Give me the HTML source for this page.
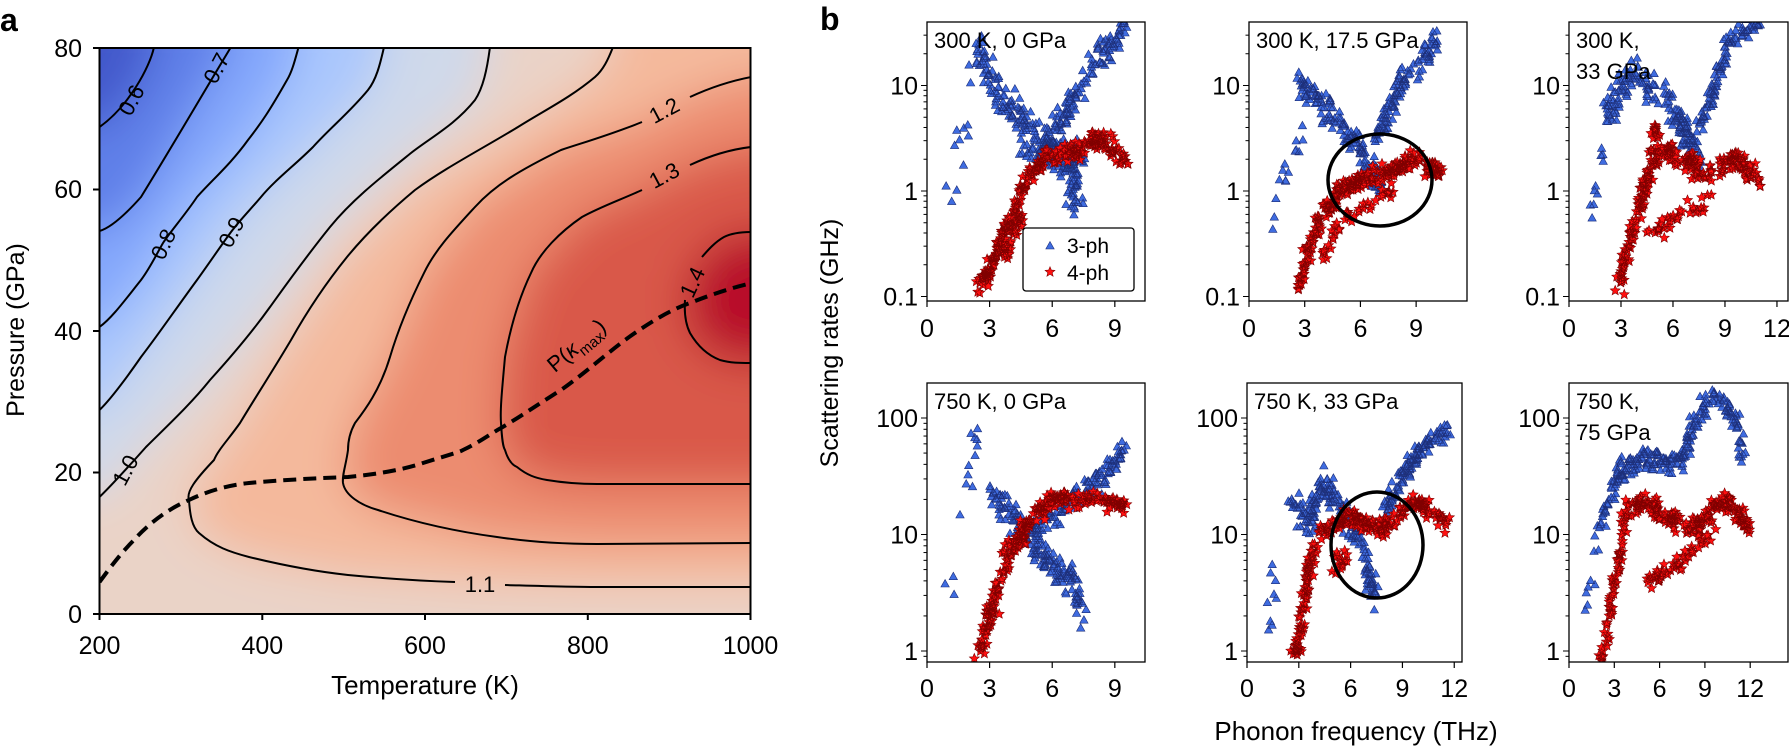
<!DOCTYPE html>
<html><head><meta charset="utf-8">
<style>
html,body{margin:0;padding:0;background:#fff;}
svg{display:block;font-family:"Liberation Sans",sans-serif;}
</style></head>
<body>
<svg id="s" width="1789" height="747" viewBox="0 0 1789 747" xmlns="http://www.w3.org/2000/svg">
<defs>
<clipPath id="ca"><rect x="99.5" y="48" width="651" height="566"/></clipPath>
<filter id="bl" x="-20%" y="-20%" width="140%" height="140%"><feGaussianBlur stdDeviation="22"/></filter>
</defs>
<g clip-path="url(#ca)">
<g filter="url(#bl)">
<rect x="40" y="0" width="780" height="680" fill="#4358cb"/>
<path fill="#5f7fe8" d="M154,0 L154,47 C150,67 128,107 99.5,127 L40,127 L40,680 L820,680 L820,0Z"/>
<path fill="#84a7fc" d="M231,0 L231,47 C205,90 176,140 141,197 C125,215 110,228 99.5,231 L40,231 L40,680 L820,680 L820,0Z"/>
<path fill="#aac7fd" d="M298,0 L298.6,47 L287,80 L248,140 L197,197 L163,243 L141,280 L99.5,327 L40,327 L40,680 L820,680 L820,0Z"/>
<path fill="#cfd9ea" d="M384,0 L384,47 L368,90 L313,147 L261,197 L231,232 L197,280 L141,357 L99.5,410 L40,410 L40,680 L820,680 L820,0Z"/>
<path fill="#ead3c7" d="M490,0 L490,47 L475,100 L411,153 L330,227 L270,307 L210,380 L146,447 L127,468 L99.5,497 L40,497 L40,680 L820,680 L820,0Z"/>
<path fill="#f4b99c" d="M613,0 L613,47 L595,77 L518,127 L415,190 L347,257 L291,340 L240,423 L214,460 L189,500 L199,533 L249,557 L348,575 L455,582 L505,585 L597,587 L820,587 L820,0Z"/>
<path fill="#ec8c6f" d="M820,77 L751,77 L690,97 L642,122 L561,150 L475,207 L424,273 L390,357 L355,423 L348,450 L343,483 L378,510 L497,537 L597,544 L820,543Z"/>
<path fill="#d9594a" d="M820,147 L751,147 L690,165 L642,190 L582,217 L531,273 L505,357 L501,423 L505,450 L517,467 L547,480 L597,484 L820,484Z"/>
<path fill="#b80f2a" d="M820,232 L751,232 L724,237 L702,257 L687,280 L685,307 L690,333 L720,360 L751,363 L820,363Z"/>
</g>
<g fill="none" stroke="#000" stroke-width="2">
<path d="M154,47 C150,67 128,107 99.5,127"/>
<path d="M231,47 C205,90 176,140 141,197 C125,215 110,228 99.5,231"/>
<path d="M298.6,47 C295,60 292,72 287,80 C270,110 262,122 248,140 C230,165 212,180 197,197 C185,215 170,232 163,243 C155,257 150,268 141,280 C125,300 112,318 99.5,327"/>
<path d="M384,47 C380,65 376,80 368,90 C350,112 330,128 313,147 C295,165 275,180 261,197 C250,210 240,220 231,232 C220,247 210,262 197,280 C175,310 158,335 141,357 C125,380 110,400 99.5,410"/>
<path d="M490,47 C487,70 483,88 475,100 C455,125 430,138 411,153 C380,178 352,200 330,227 C305,258 288,282 270,307 C250,335 230,358 210,380 C190,405 165,428 146,447 C130,465 112,485 99.5,497"/>
<path d="M613,47 C608,60 603,70 595,77 C570,98 545,110 518,127 C480,150 445,168 415,190 C385,215 365,235 347,257 C322,288 305,315 291,340 C272,372 255,398 240,423 C228,440 218,450 214,460 C195,480 186,492 189,500 C190,515 192,527 199,533 C215,547 230,552 249,557 C290,567 320,572 348,575 C390,579 425,581 455,582 M505,585 C540,586 570,587 597,587 L751,587"/>
<path d="M751,77 C725,82 705,90 690,97 M642,122 C610,135 585,142 561,150 C520,170 495,185 475,207 C452,232 435,250 424,273 C408,305 398,330 390,357 C380,390 365,410 355,423 C350,432 348,442 348,450 C346,465 342,475 343,483 C345,495 360,505 378,510 C420,524 460,532 497,537 C530,542 565,544 597,544 L751,543"/>
<path d="M751,147 C725,150 705,158 690,165 M642,190 C620,200 600,207 582,217 C560,232 540,252 531,273 C518,300 510,330 505,357 C502,390 500,410 501,423 C502,440 503,447 505,450 C508,460 512,465 517,467 C527,475 535,478 547,480 C565,483 580,484 597,484 L751,484"/>
<path d="M751,232 C738,232 730,234 724,237 C715,242 708,250 702,257 M685,300 C684,315 686,325 690,333 C697,345 707,355 720,360 C730,363 740,363 751,363"/>
</g>
<path d="M99.5,582 C112,565 122,552 134,540 C150,522 170,508 189,500 C210,490 230,485 249,483 C280,480 320,478 348,477 C380,474 405,469 423,463 C445,456 460,452 463,450 C480,442 490,434 501,428 C520,417 540,403 561,390 C585,373 605,355 625,340 C650,322 670,310 690,303 C715,293 735,287 751.7,283" fill="none" stroke="#000" stroke-width="4" stroke-dasharray="13,7"/>
<g font-size="22" fill="#000" text-anchor="middle">
<text transform="translate(131,100) rotate(-62)" dy="8">0.6</text>
<text transform="translate(216,68) rotate(-62)" dy="8">0.7</text>
<text transform="translate(163,244) rotate(-65)" dy="8">0.8</text>
<text transform="translate(231,232) rotate(-62)" dy="8">0.9</text>
<text transform="translate(125,470) rotate(-62)" dy="8">1.0</text>
<text transform="translate(480,584)" dy="8">1.1</text>
<text transform="translate(664,110) rotate(-28)" dy="8">1.2</text>
<text transform="translate(664,175) rotate(-28)" dy="8">1.3</text>
<text transform="translate(692,282) rotate(-65)" dy="8">1.4</text>
<text transform="translate(576,345) rotate(-40)" dy="8">P(<tspan font-style="italic">κ</tspan><tspan font-size="15" dy="6">max</tspan><tspan dy="-6">)</tspan></text>
</g>
</g>
<rect x="99.5" y="48" width="651" height="566" fill="none" stroke="#000" stroke-width="2"/>
<g stroke="#000" stroke-width="2">
<line x1="93" y1="48" x2="99.5" y2="48"/><line x1="93" y1="189.5" x2="99.5" y2="189.5"/><line x1="93" y1="331" x2="99.5" y2="331"/><line x1="93" y1="472.5" x2="99.5" y2="472.5"/><line x1="93" y1="614" x2="99.5" y2="614"/>
<line x1="99.5" y1="614" x2="99.5" y2="620"/><line x1="262.3" y1="614" x2="262.3" y2="620"/><line x1="425" y1="614" x2="425" y2="620"/><line x1="587.8" y1="614" x2="587.8" y2="620"/><line x1="750.5" y1="614" x2="750.5" y2="620"/>
</g>
<g font-size="25" fill="#000">
<g text-anchor="end"><text x="82" y="57">80</text><text x="82" y="198">60</text><text x="82" y="340">40</text><text x="82" y="481">20</text><text x="82" y="623">0</text></g>
<g text-anchor="middle"><text x="99.5" y="654">200</text><text x="262.3" y="654">400</text><text x="425" y="654">600</text><text x="587.8" y="654">800</text><text x="750.5" y="654">1000</text></g>
<text x="425" y="694" text-anchor="middle" font-size="26">Temperature (K)</text>
<text transform="translate(24,330) rotate(-90)" text-anchor="middle" font-size="25">Pressure (GPa)</text>
</g>
<text x="0" y="31" font-size="32" font-weight="bold">a</text>
<text x="820" y="30" font-size="32" font-weight="bold">b</text>
<text transform="translate(838,343) rotate(-90)" text-anchor="middle" font-size="25">Scattering rates (GHz)</text>
<text x="1356" y="740" text-anchor="middle" font-size="26">Phonon frequency (THz)</text>
<g id="pb"></g>
</svg>
<script>
(function(){
var NS="http://www.w3.org/2000/svg",g=document.getElementById("pb");
function el(t,a,p){var e=document.createElementNS(NS,t);for(var k in a)e.setAttribute(k,a[k]);(p||g).appendChild(e);return e;}
var seed=12345;function rnd(){seed=(seed*1103515245+12345)&0x7fffffff;return seed/0x7fffffff;}
function gs(){return (rnd()+rnd()+rnd()-1.5)/1.5*1.7;}
var P=[
{x0:927,x1:1145,y0:22,y1:301,ppt:20.87,yz:191,dec:105.5,top:1,xt:[0,3,6,9],yl:[[1,"10"],[0,"1"],[-1,"0.1"]],title:["300 K, 0 GPa"],
b:[[[[2.5,1.33],[3.5,0.86],[5.1,0.55],[6.4,0.3],[7.4,0.05]],180,.15],[[[5.8,0.5],[7.3,0.95],[7.9,1.2],[9.2,1.45],[9.5,1.6]],120,.12],[[[0.8,0],[1.5,0.4],[2.2,0.9]],12,.2],[[[4.5,0.4],[7.5,0.35]],80,.1],[[[6.5,0.1],[7.3,-0.2]],15,.12]],
r:[[[[2.5,-0.95],[3.5,-0.5],[4.5,-0.02],[5.5,0.3],[7.2,0.38],[8.2,0.5],[9.5,0.3]],250,.08],[[[3.6,-0.6],[4.6,-0.2]],30,.1]]},
{x0:1249,x1:1467,y0:22,y1:301,ppt:18.57,yz:191,dec:105.5,top:1,xt:[0,3,6,9],yl:[[1,"10"],[0,"1"],[-1,"0.1"]],title:["300 K, 17.5 GPa"],circ:[1380,180,52,46],
b:[[[[1.2,-0.3],[2,0.2],[3,0.5]],15,.15],[[[2.7,1.05],[4.2,0.77],[6.1,0.38],[7.2,0.03]],150,.13],[[[6.8,0.5],[8.3,1.03],[10.2,1.45]],110,.1]],
r:[[[[2.6,-0.9],[3.7,-0.3],[5.2,0.05],[7,0.15],[8.8,0.3],[10.3,0.18]],230,.08],[[[4,-0.6],[5.2,-0.24],[7.8,0.03]],40,.08]]},
{x0:1569,x1:1788,y0:22,y1:301,ppt:17.33,yz:191,dec:105.5,top:1,xt:[0,3,6,9,12],yl:[[1,"10"],[0,"1"],[-1,"0.1"]],title:["300 K,","33 GPa"],
b:[[[[1.2,-0.36],[1.6,0.2],[2.1,0.72]],10,.15],[[[2.1,0.72],[3.6,1.1],[5.6,0.9],[7.6,0.3]],170,.14],[[[7.6,0.6],[9.3,1.45],[11,1.6]],100,.08]],
r:[[[[2.9,-0.9],[3.7,-0.3],[4.9,0.3],[5.6,0.4],[8,0.18],[9.6,0.3],[11,0.13]],230,.1],[[[4.4,-0.42],[8,-0.1]],35,.08],[[[4.8,0.35],[5.1,0.6]],20,.05]]},
{x0:927,x1:1145,y0:383,y1:662,ppt:20.87,yz:651,dec:116.5,xt:[0,3,6,9],yl:[[2,"100"],[1,"10"],[0,"1"]],title:["750 K, 0 GPa"],
b:[[[[1,0.45],[1.8,1.38],[2.5,1.92]],14,.2],[[[3.1,1.38],[4.4,1.1],[5.8,0.75],[7.1,0.58],[7.4,0.3]],170,.12],[[[5.1,1.05],[7.1,1.32],[8.5,1.52],[9.5,1.75]],130,.1]],
r:[[[[2.5,-0.02],[3.1,0.38],[3.8,0.8],[5.1,1.15],[6.1,1.32],[7.9,1.3],[9.5,1.27]],240,.07]]},
{x0:1247,x1:1462,y0:383,y1:662,ppt:17.27,yz:651,dec:116.5,xt:[0,3,6,9,12],yl:[[2,"100"],[1,"10"],[0,"1"]],title:["750 K, 33 GPa"],circ:[1377,545,46,53],
b:[[[[1.15,0.12],[1.7,0.72],[2.4,1.32]],10,.15],[[[2.6,1.25],[3.6,1.1],[4.4,1.45],[5.6,1.2],[6.8,0.85],[7.5,0.45]],180,.12],[[[7.9,1.18],[9.4,1.6],[10.5,1.8],[11.7,1.85]],120,.08]],
r:[[[[2.8,-0.05],[3.4,0.5],[3.9,0.98],[5.8,1.15],[7.9,1.05],[9.8,1.3],[11.6,1.1]],250,.07],[[[5,0.75],[6.5,0.8]],15,.1]]},
{x0:1569,x1:1788,y0:383,y1:662,ppt:15.1,yz:651,dec:116.5,xt:[0,3,6,9,12],yl:[[2,"100"],[1,"10"],[0,"1"]],title:["750 K,","75 GPa"],
b:[[[[1.1,0.38],[2.1,1.1]],10,.15],[[[2.1,1.1],[3.3,1.52],[5.1,1.66],[7.4,1.6],[8.3,1.96],[9.7,2.24],[11.1,1.96],[11.6,1.6]],250,.09]],
r:[[[[2.1,-0.08],[3,0.52],[3.9,1.24],[5.1,1.27],[7.4,1.1],[8.3,1.04],[10.1,1.32],[12,1.06]],240,.08],[[[5.1,0.58],[7.4,0.77],[9.7,1.04]],50,.06]]}
];
function sample(br){var pts=br[0],n=br[1],s=br[2],L=[],tot=0,out=[];
for(var i=0;i<pts.length-1;i++){var dx=pts[i+1][0]-pts[i][0],dy=(pts[i+1][1]-pts[i][1])*3;var l=Math.sqrt(dx*dx+dy*dy);L.push(l);tot+=l;}
for(var k=0;k<n;k++){var u=rnd()*tot,j=0;while(j<L.length-1&&u>L[j]){u-=L[j];j++;}var t=L[j]?u/L[j]:0;if(t>1)t=1;
var f=pts[j][0]+(pts[j+1][0]-pts[j][0])*t,y=pts[j][1]+(pts[j+1][1]-pts[j][1])*t;out.push([f+gs()*0.22,y+gs()*s]);}
return out;}
function star(cx,cy,R){var r=R*0.45,d="";for(var i=0;i<10;i++){var a=-Math.PI/2+i*Math.PI/5,rr=i%2?r:R;d+=(i?"L":"M")+(cx+rr*Math.cos(a)).toFixed(1)+","+(cy+rr*Math.sin(a)).toFixed(1);}return d+"Z";}
function tri(cx,cy){return "M"+cx.toFixed(1)+","+(cy-4.5).toFixed(1)+"L"+(cx+4.2).toFixed(1)+","+(cy+3).toFixed(1)+"L"+(cx-4.2).toFixed(1)+","+(cy+3).toFixed(1)+"Z";}
P.forEach(function(p,idx){
var cid="cp"+idx;var cp=el("clipPath",{id:cid});el("rect",{x:p.x0,y:p.y0,width:p.x1-p.x0,height:p.y1-p.y0},cp);
var gg=el("g",{"clip-path":"url(#"+cid+")"});
var db="",dr="";
p.b.forEach(function(br){sample(br).forEach(function(q){db+=tri(p.x0+q[0]*p.ppt,p.yz-q[1]*p.dec);});});
p.r.forEach(function(br){sample(br).forEach(function(q){dr+=star(p.x0+q[0]*p.ppt,p.yz-q[1]*p.dec,5.2);});});
el("path",{d:db,fill:"#3f6ce0",stroke:"#1d2f7a","stroke-width":"0.6"},gg);
el("path",{d:dr,fill:"#ff1010",stroke:"#800000","stroke-width":"0.6"},gg);
if(p.circ)el("ellipse",{cx:p.circ[0],cy:p.circ[1],rx:p.circ[2],ry:p.circ[3],fill:"none",stroke:"#000","stroke-width":"3.5"},gg);
el("rect",{x:p.x0,y:p.y0,width:p.x1-p.x0,height:p.y1-p.y0,fill:"none",stroke:"#000","stroke-width":"1.3"});
var lo=Math.floor((p.yz-p.y1)/p.dec)-1,hi=Math.ceil((p.yz-p.y0)/p.dec)+1;
for(var d=lo;d<=hi;d++)for(var m=1;m<10;m++){var y=p.yz-(d+Math.log10(m))*p.dec;if(y<p.y0||y>p.y1)continue;el("line",{x1:p.x0-(m==1?6:3.5),x2:p.x0,y1:y,y2:y,stroke:"#000","stroke-width":"1"});}
p.yl.forEach(function(l){var y=p.yz-l[0]*p.dec;var t=el("text",{x:p.x0-9,y:y+9,"text-anchor":"end","font-size":"25"});t.textContent=l[1];});
var ty=p.top?328:688;
p.xt.forEach(function(v){var x=p.x0+v*p.ppt;el("line",{x1:x,x2:x,y1:p.y1,y2:p.y1+6,stroke:"#000","stroke-width":"1.2"});var t=el("text",{x:x,y:ty+9,"text-anchor":"middle","font-size":"25"});t.textContent=v;});
p.title.forEach(function(s,i){var t=el("text",{x:p.x0+7,y:p.y0+26+i*31,"font-size":"22"});t.textContent=s;});
});
el("rect",{x:1023,y:228,width:111,height:63,rx:3,fill:"#fff",stroke:"#000","stroke-width":"1.3"});
el("path",{d:tri(1050,246),fill:"#3f6ce0",stroke:"#1d2f7a","stroke-width":"0.6"});
el("path",{d:star(1050,272,5.2),fill:"#ff1010",stroke:"#800000","stroke-width":"0.6"});
var t1=el("text",{x:1067,y:253,"font-size":"21"});t1.textContent="3-ph";
var t2=el("text",{x:1067,y:280,"font-size":"21"});t2.textContent="4-ph";
})();
</script>
</body></html>
